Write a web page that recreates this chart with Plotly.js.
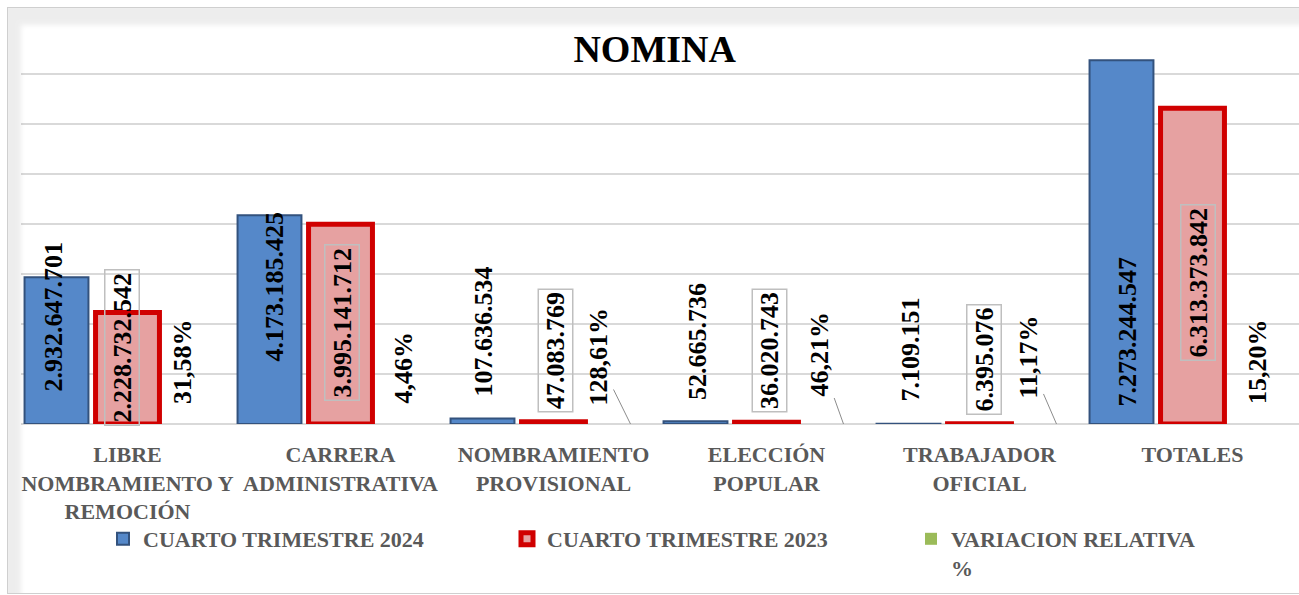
<!DOCTYPE html>
<html>
<head>
<meta charset="utf-8">
<script src="https://cdn.plot.ly/plotly-3.0.1.min.js"></script>
<style>
body { margin: 0; background: #fff; }
#wrap { position: relative; width: 1299px; height: 595px; overflow: hidden; }
#chart { width: 1299px; height: 595px; }
#frame {
    position: absolute; left: 7px; top: 7px; width: 1310px; height: 585px;
    border: 1px solid #cfcfcf;
    box-shadow: inset 13px 17px 5px 0 rgba(0, 0, 0, 0.07);
    pointer-events: none;
}
</style>
</head>
<body>
<div id="wrap">
    <div id="chart"></div>
    <div id="frame"></div>
</div>
<script>
const categories = ['LIBRE<br>NOMBRAMIENTO Y<br>REMOCIÓN', 'CARRERA<br>ADMINISTRATIVA', 'NOMBRAMIENTO<br>PROVISIONAL', 'ELECCIÓN<br>POPULAR', 'TRABAJADOR<br>OFICIAL', 'TOTALES']
const q4_2024 = [2932647701, 4173185425, 107636534, 52665736, 7109151, 7273244547]
const q4_2023 = [2228732542, 3995141712, 47083769, 36020743, 6395076, 6313373842]
const variacion = [31.58, 4.46, 128.61, 46.21, 11.17, 15.20]

// label placement (pixels), the labels were dragged by hand in the original
const blueDx = [-75, -67, -71, -69, -70, -66]
const blueDy = [30, 60, 25, 22, 20, 15]
const redDx = [-6, 1, 2, 3, 4, 5]
const redDy = [-2, 23, 11, 11, 9, 63]
const pctDx = [55, 62, 44, 52, 48, 65]
const pctDy = [18, 18, 20, 23, 20, 18]
const pctLeader = [false, false, true, true, true, false]

const fmt = v => String(v).replace(/\B(?=(\d{3})+(?!\d))/g, '.')
const pct = v => v.toFixed(2).replace('.', ',') + '%'

const serif = 'Liberation Serif, Times New Roman, serif'
const labelFont = { family: serif, size: 26, weight: 'bold', color: '#000' }

const annotations = []
categories.forEach((c, i) => {
    annotations.push({
        x: i, y: 0, xref: 'x', yref: 'y', text: fmt(q4_2024[i]), textangle: -90,
        showarrow: false, xanchor: 'center', yanchor: 'bottom',
        xshift: blueDx[i], yshift: blueDy[i], font: labelFont
    })
    annotations.push({
        x: i, y: 0, xref: 'x', yref: 'y', text: fmt(q4_2023[i]), textangle: -90,
        showarrow: false, xanchor: 'center', yanchor: 'bottom',
        xshift: redDx[i], yshift: redDy[i], font: labelFont,
        bordercolor: '#bfbfbf', borderwidth: 1.5, borderpad: 2
    })
    if (pctLeader[i]) {
        annotations.push({
            x: i, y: variacion[i], xref: 'x', yref: 'y', text: pct(variacion[i]), textangle: -90,
            showarrow: true, arrowhead: 0, arrowwidth: 1, arrowcolor: '#8c8c8c', standoff: 0,
            xshift: 77, ax: pctDx[i] - 77, ay: -(pctDy[i] + 47), font: labelFont
        })
    } else {
        annotations.push({
            x: i, y: 0, xref: 'x', yref: 'y', text: pct(variacion[i]), textangle: -90,
            showarrow: false, xanchor: 'center', yanchor: 'bottom',
            xshift: pctDx[i], yshift: pctDy[i], font: labelFont
        })
    }
})

const traces = [
    {
        type: 'bar', name: 'CUARTO TRIMESTRE 2024', x: categories, y: q4_2024,
        marker: { color: '#5588c9', line: { color: '#33527d', width: 2 } }
    },
    {
        type: 'bar', name: 'CUARTO TRIMESTRE 2023', x: categories, y: q4_2023,
        marker: { color: '#e6a1a1', line: { color: '#d00000', width: 5 } }
    },
    {
        type: 'bar', name: 'VARIACION RELATIVA<br>%', x: categories, y: variacion,
        marker: { color: '#9bbb59' }
    }
]

Plotly.newPlot(
    document.getElementById('chart'),
    traces,
    {
        width: 1299, height: 595,
        margin: { l: 21, r: 0, t: 24, b: 171 },
        paper_bgcolor: 'rgba(0,0,0,0)',
        plot_bgcolor: '#fff',
        barmode: 'group', bargap: 0, bargroupgap: 0.1,
        title: {
            text: 'NOMINA', xref: 'container', yref: 'container', x: 0.504, y: 0.918,
            xanchor: 'center', yanchor: 'middle',
            font: { family: serif, size: 38, weight: 'bold', color: '#000' }
        },
        xaxis: {
            type: 'category', tickangle: 0, ticks: '', showgrid: false, showline: false,
            ticklabelstandoff: 15,
            tickfont: { family: serif, size: 22, weight: 'bold', color: '#595959' }
        },
        yaxis: {
            range: [0, 8e9], dtick: 1e9, tick0: 0, showticklabels: false,
            gridcolor: '#d9d9d9', gridwidth: 2,
            zeroline: true, zerolinecolor: '#d9d9d9', zerolinewidth: 2
        },
        showlegend: true,
        legend: {
            orientation: 'h', xref: 'container', yref: 'container',
            x: 103 / 1299, y: 1 - 518 / 595, xanchor: 'left', yanchor: 'top',
            valign: 'top', entrywidth: 359, entrywidthmode: 'pixels',
            font: { family: serif, size: 22, weight: 'bold', color: '#595959' }
        },
        annotations
    },
    { displayModeBar: false, staticPlot: true }
)
</script>
</body>
</html>
